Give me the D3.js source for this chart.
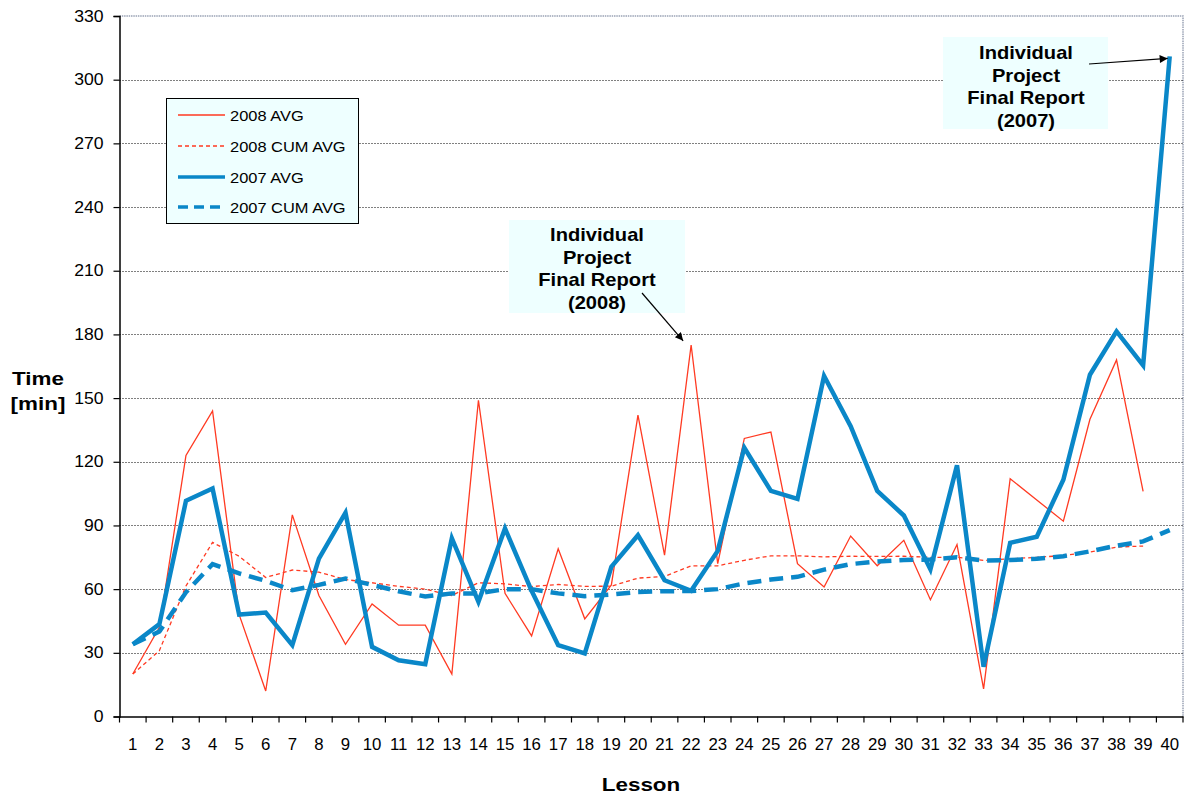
<!DOCTYPE html>
<html>
<head>
<meta charset="utf-8">
<script src="https://cdn.jsdelivr.net/npm/d3@7"></script>
<style>
  html, body { margin: 0; padding: 0; background: #fff; }
  svg text { font-family: "Liberation Sans", Arial, Helvetica, sans-serif; }
</style>
</head>
<body>
<svg id="chart" width="1187" height="795"></svg>
<script>
const lessons = [1,2,3,4,5,6,7,8,9,10,11,12,13,14,15,16,17,18,19,20,21,22,23,24,25,26,27,28,29,30,31,32,33,34,35,36,37,38,39,40];
const avg2008 = [20,42,123,144,48,12,95,57,34,53,43,43,20,149,58,38,79,46,62,142,76,175,72,131,134,72,61,85,71,83,55,81,13,112,102,92,140,168,106,null];
const cum2008 = [20,31,61.5,82,75.5,65.5,69,68,64.5,63,61.3,60,57,63,62.5,61.2,62.2,61.3,61.4,65.2,66,71,71,73.6,75.7,75.7,75.2,75.5,75.4,75.5,75,75,73.5,74.3,75,75.8,77.5,79.8,80.3,null];
const avg2007 = [34,43.5,101.6,107.4,48,49,33.6,74.4,96,32.8,26.5,24.6,84,54,88.6,59.2,33.6,29.7,70.5,85.4,64.2,59.2,78,126.6,106.3,102.5,160.4,136.8,106.3,94.7,69.3,118.3,23.4,81.8,84.7,111.5,161,181.4,165.4,311];
const cum2007 = [34,40,58.5,71.8,67.4,63.9,59.5,62,65,62,59,56.5,58,58,60,60,58,56.7,57.5,58.7,59,59.1,60,62.7,64.5,65.8,69.2,71.8,73,73.7,74,75,73.5,73.7,74.3,75.5,77.8,80.5,82.5,87.8];
const yTicks = [0,30,60,90,120,150,180,210,240,270,300,330];
const seriesNames = ["2008 AVG","2008 CUM AVG","2007 AVG","2007 CUM AVG"];
const noteLines2008 = ["Individual","Project","Final Report","(2008)"];
const noteLines2007 = ["Individual","Project","Final Report","(2007)"];

const RED = "#ff3a22", BLUE = "#0a87c8", BOXBG = "#eeffff";
const svg = d3.select("#chart");
const pL = 119.5, pR = 1183, pT = 16, pB = 716.5;

const x = d3.scaleBand().domain(lessons).range([pL, pR]).padding(0);
const y = d3.scaleLinear().domain([0, 330]).range([pB, pT]);
const cx = d => x(d) + x.bandwidth() / 2;

function label(px, py, txt, size, bold, sx, anchor) {
  return svg.append("text")
    .attr("transform", `translate(${px},${py}) scale(${sx},1)`)
    .attr("text-anchor", anchor || "middle")
    .attr("font-size", size).attr("font-weight", bold ? "bold" : "normal")
    .attr("fill", "#000").text(txt);
}

// plot border (top / right)
svg.append("path")
  .attr("d", `M${pL},${pT}H${pR}V${pB}`)
  .attr("fill", "none").attr("stroke", "#9aa3b5").attr("stroke-width", 1.5)
  .attr("stroke-dasharray", "1.5,0.8");

// grid lines
svg.append("g").selectAll("line").data(yTicks.filter(t => t > 0 && t < 330)).join("line")
  .attr("x1", pL).attr("x2", pR)
  .attr("y1", d => Math.round(y(d)) + 0.5).attr("y2", d => Math.round(y(d)) + 0.5)
  .attr("stroke", "#000").attr("stroke-width", 1).attr("stroke-dasharray", "1,2");

// y axis
const yAxis = svg.append("g").attr("transform", `translate(${pL},0)`)
  .call(d3.axisLeft(y).tickValues(yTicks).tickSize(6).tickPadding(10));
yAxis.select(".domain").attr("stroke", "#000").attr("stroke-width", 1.5);
yAxis.selectAll(".tick line").attr("stroke", "#000").attr("stroke-width", 1.2);
yAxis.selectAll("text").attr("font-size", 16).attr("fill", "#000")
  .attr("x", null).attr("transform", "translate(-16,0) scale(1.1,1)")
  .style("font-family", '"Liberation Sans", Arial, sans-serif');

// x axis
const xAxis = svg.append("g").attr("transform", `translate(0,${pB})`)
  .call(d3.axisBottom(x).tickSize(0).tickPadding(22));
xAxis.select(".domain").attr("stroke", "#000").attr("stroke-width", 1.5);
xAxis.selectAll("text").attr("font-size", 16).attr("fill", "#000")
  .attr("y", null).attr("transform", "translate(0,22) scale(1.05,1)")
  .style("font-family", '"Liberation Sans", Arial, sans-serif');
// boundary ticks
const bounds = lessons.map(d => x(d)).concat([pR]);
svg.append("g").selectAll("line").data(bounds).join("line")
  .attr("x1", d => d).attr("x2", d => d)
  .attr("y1", pB).attr("y2", pB + 6)
  .attr("stroke", "#000").attr("stroke-width", 1.2);

// lines
const lineGen = d3.line().defined(d => d.v != null).x(d => cx(d.l)).y(d => y(d.v));
const mk = arr => lessons.map((l, i) => ({ l, v: arr[i] }));
const styles = [
  { data: avg2008, color: RED, w: 1.3, dash: null },
  { data: cum2008, color: RED, w: 1.3, dash: "4,3" },
  { data: avg2007, color: BLUE, w: 4.5, dash: null },
  { data: cum2007, color: BLUE, w: 4.5, dash: "14,8" }
];
styles.forEach(s => {
  svg.append("path").datum(mk(s.data))
    .attr("d", lineGen).attr("fill", "none")
    .attr("stroke", s.color).attr("stroke-width", s.w)
    .attr("stroke-linejoin", "miter").attr("stroke-dasharray", s.dash);
});

// legend
const lg = svg.append("g");
lg.append("rect").attr("x", 166.5).attr("y", 98.5).attr("width", 192).attr("height", 125)
  .attr("fill", BOXBG).attr("stroke", "#000").attr("stroke-width", 1);
const legY = [115, 146, 177, 207];
seriesNames.forEach((n, i) => {
  const s = styles[i];
  lg.append("line").attr("x1", 178).attr("x2", 225).attr("y1", legY[i]).attr("y2", legY[i])
    .attr("stroke", s.color).attr("stroke-width", s.w > 2 ? 3.5 : 1.3)
    .attr("stroke-dasharray", s.dash ? (s.w > 2 ? "10,6" : "4,3") : null);
  lg.append("text").attr("transform", `translate(230,${legY[i] + 5.5}) scale(1.06,1)`)
    .attr("font-size", 15.5).attr("fill", "#000").text(n);
});

// annotations
svg.append("defs").append("marker").attr("id", "arr")
  .attr("viewBox", "0 0 10 10").attr("refX", 10).attr("refY", 5)
  .attr("markerWidth", 10).attr("markerHeight", 8).attr("markerUnits", "userSpaceOnUse")
  .attr("orient", "auto")
  .append("path").attr("d", "M0,0L10,5L0,10z").attr("fill", "#000");

function note(lines, bx, by, bw, bh, tcx, base0, ax1, ay1, lesson, val, dx) {
  svg.append("rect").attr("x", bx).attr("y", by).attr("width", bw).attr("height", bh).attr("fill", BOXBG);
  lines.forEach((t, i) => label(tcx, base0 + i * 22.7, t, 17.5, true, 1.15));
  svg.append("line").attr("x1", ax1).attr("y1", ay1)
    .attr("x2", cx(lesson) + dx).attr("y2", y(val))
    .attr("stroke", "#000").attr("stroke-width", 1.2).attr("marker-end", "url(#arr)");
}
note(noteLines2008, 509, 220, 176, 93, 597, 241, 642, 293, 22, 175 + 2, -8);
note(noteLines2007, 943, 37, 165, 92, 1026, 59, 1089, 64, 40, 310, -2);

// axis titles
label(38, 385, "Time", 19, true, 1.18);
label(38, 410, "[min]", 19, true, 1.18);
label(641, 791, "Lesson", 19, true, 1.18);
</script>
</body>
</html>
